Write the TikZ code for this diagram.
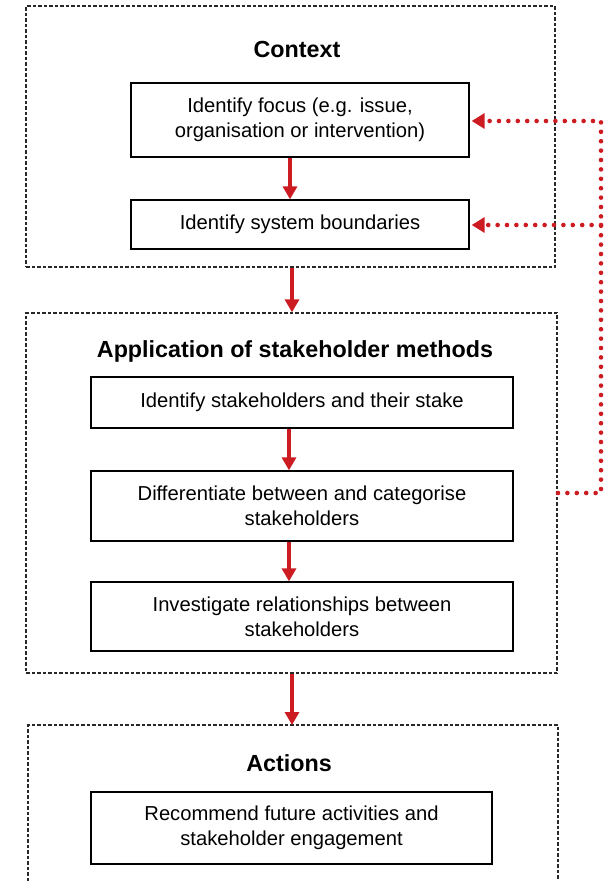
\documentclass[tikz,border=0pt]{standalone}
\usepackage{fontspec}
\setmainfont{Liberation Sans}
\usetikzlibrary{arrows.meta}
\definecolor{arrowred}{RGB}{204,28,34}
\definecolor{dashgray}{RGB}{40,40,40}
\tikzset{
  x=1pt, y=-1pt,
  stepbox/.style={draw=black, line width=1.3pt, rectangle, align=center, inner sep=0pt,
    font=\fontsize{20.2}{25}\selectfont},
  container/.style={draw=dashgray, line width=1.3pt, dash pattern=on 3.5pt off 2pt, rectangle, inner sep=0pt},
  title/.style={font=\fontsize{23.3}{28}\selectfont\bfseries, inner sep=0pt},
  redarrow/.style={draw=arrowred, line width=3.2pt, -{Triangle[length=13pt,width=14pt]}},
  reddots/.style={draw=arrowred, line width=4.6pt, line cap=round, dash pattern=on 0pt off 9.4pt,
    -{Triangle[length=13pt,width=15pt,sep=2pt]}}
}
\begin{document}
\begin{tikzpicture}
\useasboundingbox (0,0) rectangle (610,881);
\fill[white] (0,0) rectangle (610,881);
% containers
\node[container, minimum width=529pt, minimum height=261pt] (ctx) at (290.5,136.5) {};
\node[container, minimum width=531pt, minimum height=360pt] (app) at (291.5,493) {};
\coordinate (actTL) at (28,725);
\coordinate (actTR) at (558,725);
\draw[draw=dashgray, line width=1.3pt, dash pattern=on 3.5pt off 2pt] (28,881) -- (actTL) -- (actTR) -- (558,881);
% titles
\node[title] (t1) at (297,49) {Context};
\node[title] (t2) at (295,351) {Application of stakeholder methods};
\node[title] (t3) at (289,763) {Actions};
% boxes
\node[stepbox, minimum width=338pt, minimum height=74pt] (b1) at (300,120) {Identify focus (e.g. issue,\\organisation or intervention)};
\node[stepbox, minimum width=338pt, minimum height=49pt] (b2) at (300,224.5) {Identify system boundaries};
\node[stepbox, minimum width=422pt, minimum height=51pt] (b3) at (302,402.5) {Identify stakeholders and their stake};
\node[stepbox, minimum width=422pt, minimum height=70pt] (b4) at (302,506) {Differentiate between and categorise\\stakeholders};
\node[stepbox, minimum width=422pt, minimum height=69pt] (b5) at (302,616.5) {Investigate relationships between\\stakeholders};
\node[stepbox, minimum width=401pt, minimum height=72pt] (b6) at (291.5,828) {Recommend future activities and\\stakeholder engagement};
% red arrows
\draw[redarrow] ([xshift=-10pt]b1.south) -- ([xshift=-10pt]b2.north);
\draw[redarrow] ([xshift=1.5pt]ctx.south) -- ([xshift=0.5pt]app.north);
\draw[redarrow] ([xshift=-13pt]b3.south) -- ([xshift=-13pt]b4.north);
\draw[redarrow] ([xshift=-13pt]b4.south) -- ([xshift=-13pt]b5.north);
\coordinate (actTop) at (292,725);
\draw[redarrow] ([xshift=0.5pt]app.south) -- (actTop);
% dotted feedback
\coordinate (d0) at (558,493);
\coordinate (d1) at (601,493);
\coordinate (d2) at (601,121);
\coordinate (d3) at (601,225);
\draw[reddots] (d0) -- (d1) -- (d2) -- (b1.east |- d2);
\draw[reddots] (d3) -- (b2.east |- d3);
\end{tikzpicture}
\end{document}
